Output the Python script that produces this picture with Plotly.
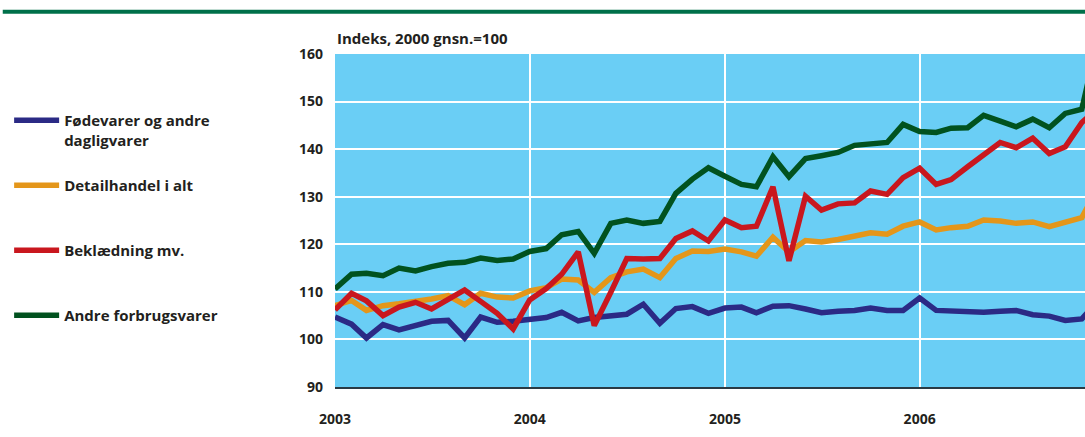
import pandas as pd
import plotly.graph_objects as go

# ---- data ----
months = pd.date_range("2003-01-01", periods=48, freq="MS")

names = ["Fødevarer og andre<br>dagligvarer", "Detailhandel i alt<br>&nbsp;",
         "Beklædning mv.<br>&nbsp;", "Andre forbrugsvarer<br>&nbsp;"]

foedevarer = [104.7, 103.2, 100.3, 103.1, 102.0, 102.9, 103.8, 104.0, 100.3, 104.7, 103.6, 103.8,
              104.2, 104.6, 105.7, 103.9, 104.6, 105.0, 105.3, 107.4, 103.4, 106.5, 106.9, 105.5,
              106.6, 106.8, 105.6, 107.0, 107.1, 106.4, 105.6, 105.9, 106.1, 106.6, 106.1, 106.1,
              108.7, 106.1, 105.9, 105.9, 105.7, 105.9, 106.1, 105.2, 104.9, 104.0, 104.3, 108.0]

detailhandel = [107.1, 108.2, 106.1, 107.1, 107.5, 107.9, 108.5, 109.2, 107.3, 109.7, 108.9, 108.7,
                110.2, 110.9, 112.7, 112.5, 109.9, 113.0, 114.2, 114.8, 113.0, 117.0, 118.6, 118.5,
                119.0, 118.4, 117.5, 121.5, 118.4, 120.8, 120.5, 121.0, 121.7, 122.4, 122.1, 123.8,
                124.7, 123.0, 123.5, 123.8, 125.1, 124.9, 124.4, 124.7, 123.7, 124.5, 125.6, 132.0]

beklaedning = [106.2, 109.7, 108.1, 105.0, 106.8, 107.8, 106.4, 108.5, 110.4, 108.0, 105.5, 102.2,
               108.3, 110.7, 113.7, 118.4, 102.9, 109.9, 117.0, 116.9, 117.0, 121.2, 122.8, 120.7,
               125.1, 123.5, 123.8, 132.1, 116.5, 130.1, 127.2, 128.5, 128.7, 131.2, 130.5, 134.0,
               136.0, 132.6, 133.6, 136.3, 138.9, 141.4, 140.3, 142.3, 139.1, 140.5, 145.6, 148.6]

andre = [110.6, 113.7, 113.9, 113.4, 115.0, 114.4, 115.3, 116.0, 116.2, 117.1, 116.6, 116.9,
         118.5, 119.1, 122.0, 122.7, 118.1, 124.4, 125.1, 124.4, 124.8, 130.7, 133.7, 136.1,
         134.3, 132.6, 132.1, 138.4, 134.2, 138.0, 138.6, 139.3, 140.8, 141.2, 141.4, 145.2,
         143.7, 143.5, 144.4, 144.5, 147.1, 145.9, 144.7, 146.3, 144.5, 147.5, 148.4, 163.0]

series = [foedevarer, detailhandel, beklaedning, andre]
colors = ["#2B2A85", "#E4961A", "#C9171E", "#01521F"]

year_ticks = ["2003-01-01", "2004-01-01", "2005-01-01", "2006-01-01"]
year_labels = ["2003", "2004", "2005", "2006"]
y_ticks = [90, 100, 110, 120, 130, 140, 150, 160]

FONT = "Open Sans"
TXT = "#231F20"

fig = go.Figure()
for i, (nm, vals, col) in enumerate(zip(names, series, colors)):
    fig.add_trace(go.Scatter(
        x=months, y=vals, mode="lines", name=nm, legendgroup=f"g{i}",
        line=dict(color=col, width=5.5), cliponaxis=True,
    ))

fig.update_layout(
    width=1085, height=437,
    margin=dict(l=335, r=0, t=54, b=50, pad=0),
    paper_bgcolor="white",
    plot_bgcolor="#6ACEF5",
    font=dict(family=FONT, size=14, color=TXT, weight="bold"),
    showlegend=True,
    legend=dict(
        x=-0.4345, xanchor="left", y=0.85, yanchor="top",
        font=dict(family=FONT, size=15, color=TXT, weight="bold"),
        valign="top", tracegroupgap=23, itemwidth=45,
        bgcolor="rgba(0,0,0,0)",
    ),
    xaxis=dict(
        type="date", range=["2003-01-01", "2006-11-07"],
        tickvals=year_ticks, ticktext=year_labels,
        showgrid=True, gridcolor="white", gridwidth=2,
        showline=True, linecolor="#2A3A44", linewidth=2,
        ticks="", ticklabelstandoff=18, zeroline=False,
        tickfont=dict(family=FONT, size=14, color=TXT, weight="bold"),
    ),
    yaxis=dict(
        range=[90, 160], tickvals=y_ticks,
        showgrid=True, gridcolor="white", gridwidth=2,
        ticks="", ticklabelstandoff=11, zeroline=False, showline=False,
        tickfont=dict(family=FONT, size=14, color=TXT, weight="bold"),
    ),
    annotations=[dict(
        text="Indeks, 2000 gnsn.=100", xref="paper", yref="paper",
        x=0, y=1.0, xanchor="left", yanchor="bottom", yshift=4,
        showarrow=False, font=dict(family=FONT, size=15, color=TXT, weight="bold"),
    )],
    shapes=[dict(
        type="rect", xref="paper", yref="paper",
        x0=-0.443, x1=1.0, y0=1.121, y1=1.133,
        fillcolor="#00704A", line=dict(width=0), layer="above",
    )],
)

fig.write_html("out.html", config={"displayModeBar": False},
               post_script="document.body.style.margin='0px';document.body.style.padding='0px';")
